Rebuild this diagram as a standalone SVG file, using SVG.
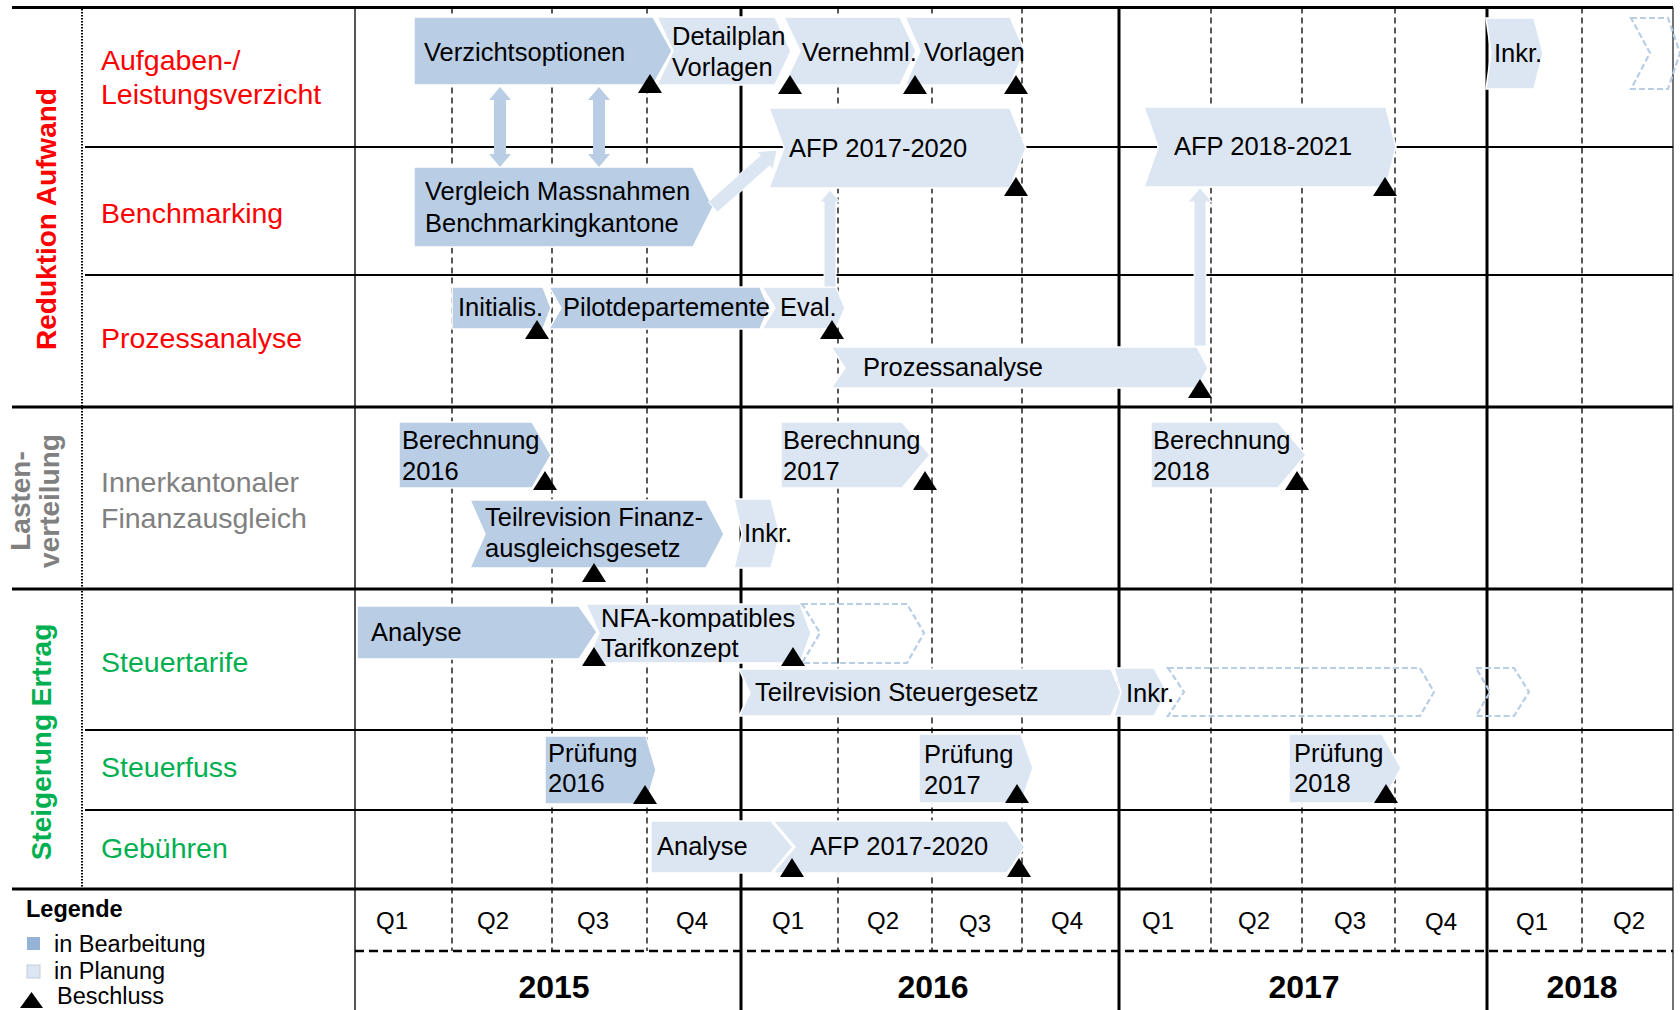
<svg xmlns="http://www.w3.org/2000/svg" xmlns:xlink="http://www.w3.org/1999/xlink" width="1680" height="1010" viewBox="0 0 1680 1010">
<style>
text{font-family:"Liberation Sans",Arial,sans-serif}
.maj{stroke:#000;stroke-width:3;fill:none}
.row{stroke:#000;stroke-width:2;fill:none}
.yr{stroke:#000;stroke-width:3;fill:none}
.q{stroke:#000;stroke-width:1.3;stroke-dasharray:6 4;fill:none}
.dk{fill:#B9CDE5;stroke:#fff;stroke-width:1.5}
.lt{fill:#DCE6F2;stroke:#fff;stroke-width:1.5}
.ds{fill:none;stroke:#B9CDE5;stroke-width:2.2;stroke-dasharray:6 3}
.bt{font-size:25.5px;fill:#000}
.lb{font-size:28.5px}
.red{fill:#FF0000}
.grn{fill:#00B050}
.gry{fill:#808080}
.vl{font-size:28px;font-weight:bold;text-anchor:middle}
.ql{font-size:24px;text-anchor:middle;fill:#000}
.yl{font-size:32px;font-weight:bold;text-anchor:middle;fill:#000}
.lg{font-size:23.5px;fill:#000}
.arD{fill:#B9CDE5}
.arL{fill:#DCE6F2;stroke:#fff;stroke-width:1}
</style>
<defs>
<path id="tri" d="M-12,0 L12,0 L0,-19 Z" fill="#000"/>
</defs>
<rect width="1680" height="1010" fill="#fff"/>

<g id="grid">
<line class="q" x1="452" y1="7.5" x2="452" y2="951"/>
<line class="q" x1="552" y1="7.5" x2="552" y2="951"/>
<line class="q" x1="647" y1="7.5" x2="647" y2="951"/>
<line class="q" x1="838" y1="7.5" x2="838" y2="951"/>
<line class="q" x1="932" y1="7.5" x2="932" y2="951"/>
<line class="q" x1="1022" y1="7.5" x2="1022" y2="951"/>
<line class="q" x1="1211" y1="7.5" x2="1211" y2="951"/>
<line class="q" x1="1302" y1="7.5" x2="1302" y2="951"/>
<line class="q" x1="1395" y1="7.5" x2="1395" y2="951"/>
<line class="q" x1="1582" y1="7.5" x2="1582" y2="951"/>
<line x1="355" y1="7.5" x2="355" y2="1010" stroke="#555" stroke-width="2"/>
<line x1="1673" y1="7.5" x2="1673" y2="1010" stroke="#444" stroke-width="1.5"/>
<line class="yr" x1="741" y1="7.5" x2="741" y2="1010"/>
<line class="yr" x1="1119" y1="7.5" x2="1119" y2="1010"/>
<line class="yr" x1="1487" y1="7.5" x2="1487" y2="1010"/>
<line x1="82" y1="9" x2="82" y2="889" stroke="#000" stroke-width="2" stroke-dasharray="1.5 1.5"/>
<line class="maj" x1="12" y1="7.5" x2="1673" y2="7.5"/>
<line class="row" x1="85" y1="147" x2="1673" y2="147"/>
<line class="row" x1="85" y1="275" x2="1673" y2="275"/>
<line class="maj" x1="12" y1="407" x2="1673" y2="407"/>
<line class="maj" x1="12" y1="589" x2="1673" y2="589"/>
<line class="row" x1="85" y1="730" x2="1673" y2="730"/>
<line class="row" x1="85" y1="810" x2="1673" y2="810"/>
<line class="maj" x1="12" y1="889" x2="1673" y2="889"/>
<line x1="355" y1="951" x2="1673" y2="951" stroke="#000" stroke-width="2.5" stroke-dasharray="9 5"/>
</g>

<g id="group-labels">
<text class="vl red" transform="translate(56,219) rotate(-90)">Reduktion Aufwand</text>
<text class="vl gry" transform="translate(30,501) rotate(-90)">Lasten-</text>
<text class="vl gry" transform="translate(59,501) rotate(-90)">verteilung</text>
<text class="vl grn" transform="translate(51,742) rotate(-90)">Steigerung Ertrag</text>
</g>

<g id="row-labels">
<text class="lb red" x="101" y="70">Aufgaben-/</text>
<text class="lb red" x="101" y="104">Leistungsverzicht</text>
<text class="lb red" x="101" y="223">Benchmarking</text>
<text class="lb red" x="101" y="348">Prozessanalyse</text>
<text class="lb gry" x="101" y="492">Innerkantonaler</text>
<text class="lb gry" x="101" y="528">Finanzausgleich</text>
<text class="lb grn" x="101" y="672">Steuertarife</text>
<text class="lb grn" x="101" y="777">Steuerfuss</text>
<text class="lb grn" x="101" y="858">Gebühren</text>
</g>

<g id="bar-verzichtsoptionen"><path class="dk" d="M414,17 L653,17 L672,51 L653,85 L414,85 Z"/><text class="bt" x="424" y="61">Verzichtsoptionen</text></g>
<g id="bar-detailplan"><path class="lt" d="M657,17 L775,17 L791,51 L775,85 L657,85 L673,51 Z"/><text class="bt" x="672" y="45">Detailplan</text><text class="bt" x="672" y="76">Vorlagen</text></g>
<g id="bar-vernehml"><path class="lt" d="M784,17 L900,17 L916,51 L900,85 L784,85 L800,51 Z"/><text class="bt" x="802" y="61">Vernehml.</text></g>
<g id="bar-vorlagen"><path class="lt" d="M905,17 L1010,17 L1025,51 L1010,85 L905,85 L920,51 Z"/><text class="bt" x="924" y="61">Vorlagen</text></g>
<g id="bar-inkr-1"><path class="lt" d="M1486,18 L1534,18 L1543,53 L1534,89 L1486,89 L1491,53 Z"/><text class="bt" x="1494" y="62">Inkr.</text></g>
<g id="bar-future-1"><path class="ds" d="M1631,18 L1668,18 L1680,53 L1668,89 L1631,89 L1650,53 Z"/></g>

<g id="bar-vergleich"><path class="dk" d="M414,167 L693,167 L713,207 L693,247 L414,247 Z"/><text class="bt" x="425" y="200">Vergleich Massnahmen</text><text class="bt" x="425" y="232">Benchmarkingkantone</text></g>
<g id="bar-afp1720"><path class="lt" d="M769,108 L1010,108 L1026,148 L1010,188 L769,188 L784,148 Z"/><text class="bt" x="789" y="157">AFP 2017-2020</text></g>
<g id="bar-afp1821"><path class="lt" d="M1144,107 L1386,107 L1396,147 L1386,187 L1144,187 L1158,147 Z"/><text class="bt" x="1174" y="155">AFP 2018-2021</text></g>

<g id="bar-initialis"><path class="dk" d="M452,287 L543,287 L551,308 L543,329 L452,329 Z"/><text class="bt" x="458" y="316">Initialis.</text></g>
<g id="bar-pilot"><path class="dk" d="M549,287 L760,287 L769,308 L760,329 L549,329 L561,308 Z"/><text class="bt" x="563" y="316">Pilotdepartemente</text></g>
<g id="bar-eval"><path class="lt" d="M762,287 L836,287 L845,308 L836,329 L762,329 L775,308 Z"/><text class="bt" x="780" y="316">Eval.</text></g>
<g id="bar-prozess"><path class="lt" d="M831,347 L1197,347 L1208,368 L1197,388 L831,388 L845,368 Z"/><text class="bt" x="863" y="376">Prozessanalyse</text></g>

<g id="bar-ber2016"><path class="dk" d="M399,422 L532,422 L551,455 L532,488 L399,488 Z"/><text class="bt" x="402" y="449">Berechnung</text><text class="bt" x="402" y="480">2016</text></g>
<g id="bar-teilrev-fin"><path class="dk" d="M470,500 L706,500 L724,534 L706,568 L470,568 L485,534 Z"/><text class="bt" x="485" y="526">Teilrevision Finanz-</text><text class="bt" x="485" y="557">ausgleichsgesetz</text></g>
<g id="bar-inkr-2"><path class="lt" d="M734,499 L771,499 L780,534 L771,568 L734,568 L742,534 Z"/><text class="bt" x="744" y="542">Inkr.</text></g>
<g id="bar-ber2017"><path class="lt" d="M781,422 L902,422 L930,455 L902,488 L781,488 Z"/><text class="bt" x="783" y="449">Berechnung</text><text class="bt" x="783" y="480">2017</text></g>
<g id="bar-ber2018"><path class="lt" d="M1151,422 L1278,422 L1306,455 L1278,488 L1151,488 Z"/><text class="bt" x="1153" y="449">Berechnung</text><text class="bt" x="1153" y="480">2018</text></g>

<g id="bar-analyse-st"><path class="dk" d="M357,606 L579,606 L597,632 L579,659 L357,659 Z"/><text class="bt" x="371" y="641">Analyse</text></g>
<g id="bar-nfa"><path class="lt" d="M586,604 L800,604 L811,633 L800,663 L586,663 L599,633 Z"/><text class="bt" x="601" y="627">NFA-kompatibles</text><text class="bt" x="601" y="657">Tarifkonzept</text></g>
<g id="bar-future-2"><path class="ds" d="M802,604 L907,604 L924,633 L907,663 L802,663 L820,633 Z"/></g>
<g id="bar-teilrev-st"><path class="lt" d="M739,669 L1111,669 L1121,693 L1111,716 L739,716 L750,693 Z"/><text class="bt" x="755" y="701">Teilrevision Steuergesetz</text></g>
<g id="bar-inkr-3"><path class="lt" d="M1114,668 L1154,668 L1167,692 L1154,716 L1114,716 L1121,692 Z"/><text class="bt" x="1126" y="702">Inkr.</text></g>
<g id="bar-future-3"><path class="ds" d="M1168,668 L1420,668 L1434,692 L1420,716 L1168,716 L1184,692 Z"/></g>
<g id="bar-future-4"><path class="ds" d="M1476,668 L1514,668 L1529,692 L1514,716 L1476,716 L1490,692 Z"/></g>

<g id="bar-pr2016"><path class="dk" d="M545,736 L646,736 L656,770 L646,804 L545,804 Z"/><text class="bt" x="548" y="762">Prüfung</text><text class="bt" x="548" y="792">2016</text></g>
<g id="bar-pr2017"><path class="lt" d="M919,734 L1021,734 L1033,768 L1021,803 L919,803 Z"/><text class="bt" x="924" y="763">Prüfung</text><text class="bt" x="924" y="794">2017</text></g>
<g id="bar-pr2018"><path class="lt" d="M1289,734 L1382,734 L1401,768 L1382,803 L1289,803 Z"/><text class="bt" x="1294" y="762">Prüfung</text><text class="bt" x="1294" y="792">2018</text></g>

<g id="bar-analyse-geb"><path class="lt" d="M651,821 L771,821 L793,847 L771,873 L651,873 Z"/><text class="bt" x="657" y="855">Analyse</text></g>
<g id="bar-afp-geb"><path class="lt" d="M773,821 L1007,821 L1025,847 L1007,873 L773,873 L795,847 Z"/><text class="bt" x="810" y="855">AFP 2017-2020</text></g>

<g id="connectors">
<polygon class="arD" points="500,87 511,100 506,100 506,154 511,154 500,167 489,154 494,154 494,100 489,100"/>
<polygon class="arD" points="599,87 610,100 605,100 605,154 610,154 599,167 588,154 593,154 593,100 588,100"/>
<polygon class="arL" points="717.6,212.2 769.7,165.9 773,169.6 777,150 757.1,151.7 760.4,155.4 708.4,201.8"/>
<polygon class="arL" points="830,190 840,202 836,202 836,287 824,287 824,202 820,202"/>
<polygon class="arL" points="1200,188 1212,202 1206,202 1206,346 1194,346 1194,202 1188,202"/>
</g>

<g id="milestones">
<use href="#tri" x="650" y="93"/>
<use href="#tri" x="790" y="94"/>
<use href="#tri" x="915" y="94"/>
<use href="#tri" x="1016" y="94"/>
<use href="#tri" x="1016" y="196"/>
<use href="#tri" x="1385" y="196"/>
<use href="#tri" x="537" y="339"/>
<use href="#tri" x="832" y="339"/>
<use href="#tri" x="1200" y="398"/>
<use href="#tri" x="545" y="490"/>
<use href="#tri" x="594" y="582"/>
<use href="#tri" x="925" y="490"/>
<use href="#tri" x="1297" y="490"/>
<use href="#tri" x="594" y="666"/>
<use href="#tri" x="793" y="666"/>
<use href="#tri" x="645" y="804"/>
<use href="#tri" x="1017" y="803"/>
<use href="#tri" x="1386" y="803"/>
<use href="#tri" x="792" y="877"/>
<use href="#tri" x="1019" y="877"/>
</g>

<g id="timeline">
<text class="ql" x="392" y="929">Q1</text>
<text class="ql" x="493" y="929">Q2</text>
<text class="ql" x="593" y="929">Q3</text>
<text class="ql" x="692" y="929">Q4</text>
<text class="ql" x="788" y="929">Q1</text>
<text class="ql" x="883" y="929">Q2</text>
<text class="ql" x="975" y="932">Q3</text>
<text class="ql" x="1067" y="929">Q4</text>
<text class="ql" x="1158" y="929">Q1</text>
<text class="ql" x="1254" y="929">Q2</text>
<text class="ql" x="1350" y="929">Q3</text>
<text class="ql" x="1441" y="930">Q4</text>
<text class="ql" x="1532" y="930">Q1</text>
<text class="ql" x="1629" y="929">Q2</text>
<text class="yl" x="554" y="998">2015</text>
<text class="yl" x="933" y="998">2016</text>
<text class="yl" x="1304" y="998">2017</text>
<text class="yl" x="1582" y="998">2018</text>
</g>

<g id="legend">
<text class="lg" x="26" y="917" font-weight="bold">Legende</text>
<rect x="27" y="937" width="13" height="13" fill="#95B3D7"/>
<text class="lg" x="54" y="952">in Bearbeitung</text>
<rect x="27" y="965" width="13" height="13" fill="#DCE6F2" stroke="#C5CFDD" stroke-width="1"/>
<text class="lg" x="54" y="979">in Planung</text>
<path d="M20,1008 L43,1008 L31.5,992 Z" fill="#000"/>
<text class="lg" x="57" y="1004">Beschluss</text>
</g>
</svg>
